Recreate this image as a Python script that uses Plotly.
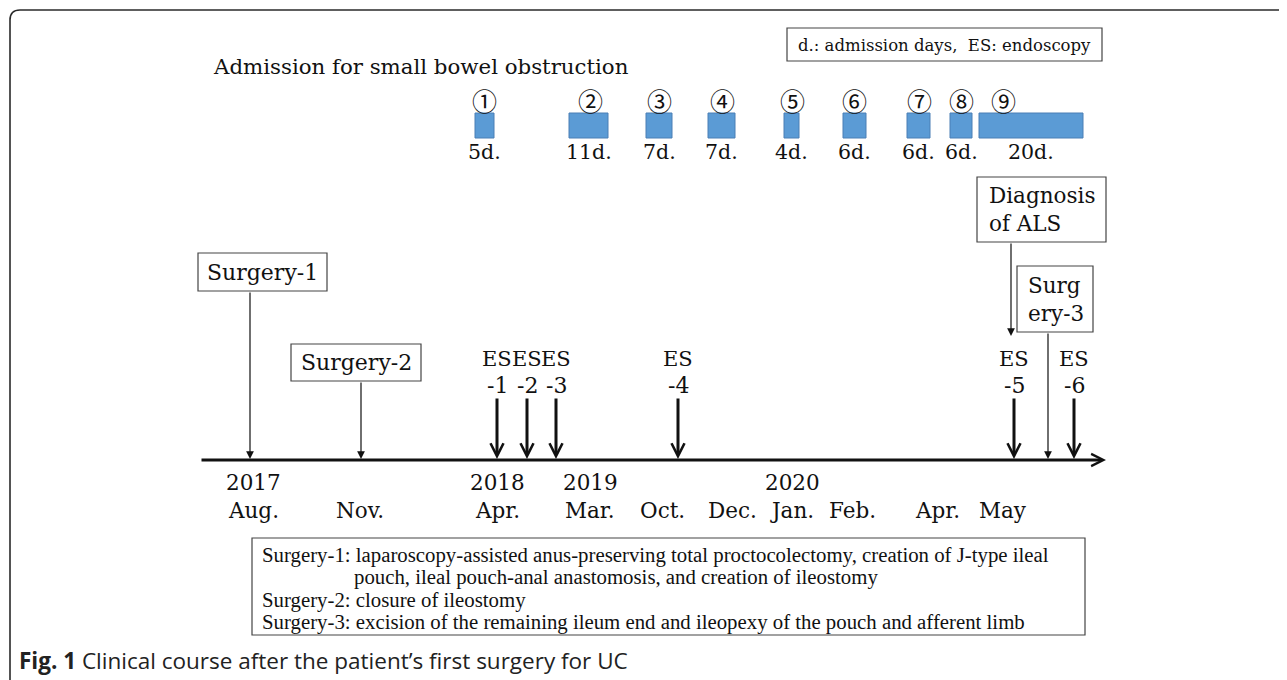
import plotly.graph_objects as go

W, H = 1287, 680
OFF = 8  # default page body margin of the html page

# ---------------- data (schematic timeline positions) ----------------
adm_num = ["①", "②", "③", "④", "⑤", "⑥", "⑦", "⑧", "⑨"]
adm_days = ["5d.", "11d.", "7d.", "7d.", "4d.", "6d.", "6d.", "6d.", "20d."]
adm_start = [475, 569, 646, 708, 784, 843, 907, 950, 979]
adm_end = [494, 608, 672, 735, 799, 866, 930, 972, 1083]
adm_num_pos = [484, 590, 659, 722, 792, 854, 919, 961, 1003]

date_pos = [253, 360, 497, 590, 662, 732, 792, 852, 937, 1003]
date_year = ["2017", "", "2018", "2019", "", "", "2020", "", "", ""]
date_month = ["Aug.", "Nov.", "Apr.", "Mar.", "Oct.", "Dec.", "Jan.", "Feb.", "Apr.", "May"]

es_name = ["ES", "ES", "ES", "ES", "ES", "ES"]
es_num = ["-1", "-2", "-3", "-4", "-5", "-6"]
es_pos = [497, 527, 556, 678, 1014, 1074]

surg_label = ["Surgery-1", "Surgery-2", "Surg<br>ery-3"]
surg_pos = [250, 361, 1048]

als_label = "Diagnosis<br>of ALS"
als_pos = 1011

notes = [
    "Surgery-1: laparoscopy-assisted anus-preserving total proctocolectomy, creation of J-type ileal",
    "pouch, ileal pouch-anal anastomosis, and creation of ileostomy",
    "Surgery-2: closure of ileostomy",
    "Surgery-3: excision of the remaining ileum end and ileopexy of the pouch and afferent limb",
]

# ---------------- layout constants ----------------
SERIF = "DejaVu Serif"
NOTE_FONT = "Liberation Serif"
INK = "#111111"
BOXLINE = "#444444"
TL_Y = 460
TL_X0, TL_X1 = 200, 1106

fig = go.Figure()

# admission bars
fig.add_trace(go.Bar(
    y=[125.5] * len(adm_start),
    x=[e - s for s, e in zip(adm_start, adm_end)],
    base=adm_start,
    orientation="h",
    width=25,
    marker=dict(color="#5B9BD5", line=dict(color="#4A7EB5", width=1)),
    hoverinfo="skip",
    showlegend=False,
))

ann = []
shapes = []

def text(x, y, s, size=21.5, family=SERIF, xanchor="center", align="center", yanchor="middle", color=INK):
    ann.append(dict(x=x, y=y, xref="x", yref="y", text=s, showarrow=False,
                    xanchor=xanchor, yanchor=yanchor, align=align,
                    font=dict(family=family, size=size, color=color)))

def rect(x0, y0, x1, y1, color=BOXLINE, width=1.2):
    shapes.append(dict(type="rect", xref="x", yref="y", x0=x0, y0=y0, x1=x1, y1=y1,
                       line=dict(color=color, width=width), fillcolor="white", layer="below"))

def arrow(x0, y0, x1, y1, width, head, size, color=INK):
    ann.append(dict(x=x1, y=y1, ax=x0, ay=y0, xref="x", yref="y", axref="x", ayref="y",
                    text="", showarrow=True, arrowhead=head, arrowwidth=width,
                    arrowsize=size, arrowcolor=color, standoff=0, startstandoff=0))

# outer rounded frame
shapes.append(dict(type="path", xref="x", yref="y",
                   path="M 10,700 L 10,20 Q 10,10 20,10 L 1300,10",
                   line=dict(color="#2a2a2a", width=1.6)))

# title & legend
text(211, 66, "Admission for small bowel obstruction", size=21.3, xanchor="left")
rect(787, 28, 1102, 61)
text(944.5, 45, "d.: admission days,  ES: endoscopy", size=16.5)

# admission labels
for n, x in zip(adm_num, adm_num_pos):
    text(x, 100, n, size=25, family="Noto Sans CJK JP")
for d, s, e in zip(adm_days, adm_start, adm_end):
    text((s + e) / 2, 152, d, size=20.5)

# timeline
arrow(TL_X0, TL_Y, TL_X1, TL_Y, 3, 5, 0.8)

# dates
for x, yr, mo in zip(date_pos, date_year, date_month):
    if yr:
        text(x, 482, yr, size=21.5)
    text(x, 510, mo, size=21.5)

# endoscopies
for nm, num, x in zip(es_name, es_num, es_pos):
    text(x, 359, nm, size=21)
    text(x, 385, num, size=22)
    arrow(x, 397, x, TL_Y - 1, 3, 5, 0.85)

# surgery boxes
surg_boxes = [(198, 253, 327, 291), (291, 344, 421, 381), (1017, 266, 1093, 332)]
for lab, x, (bx0, by0, bx1, by1) in zip(surg_label, surg_pos, surg_boxes):
    rect(bx0, by0, bx1, by1)
    if "<br>" in lab:
        text(bx0 + 9, (by0 + by1) / 2, lab, size=21.5, xanchor="left", align="left")
    else:
        text((bx0 + bx1) / 2, (by0 + by1) / 2, lab, size=22)
    arrow(x, by1, x, TL_Y - 1, 1.2, 2, 1.3)

# ALS diagnosis
rect(977, 177, 1106, 242)
text(987, 209.5, als_label, size=21.5, xanchor="left", align="left")
arrow(als_pos, 242, als_pos, 336, 1.2, 2, 1.3)

# notes box
rect(252, 538, 1085, 635)
note_y = [555, 577, 600, 622]
note_x = [260, 352, 260, 260]
for s, x, y in zip(notes, note_x, note_y):
    text(x, y, s, size=20.8, family=NOTE_FONT, xanchor="left")

# caption
text(17, 660, "<b>Fig. 1</b> Clinical course after the patient’s first surgery for UC",
     size=22.5, family="Open Sans", xanchor="left", color="#222222")

fig.update_layout(
    width=W - OFF, height=H - OFF,
    margin=dict(l=0, r=0, t=0, b=0),
    paper_bgcolor="white", plot_bgcolor="white",
    xaxis=dict(range=[OFF, W], visible=False, fixedrange=True),
    yaxis=dict(range=[H, OFF], visible=False, fixedrange=True),
    annotations=ann, shapes=shapes,
    showlegend=False,
)

fig.write_html("out.html")
